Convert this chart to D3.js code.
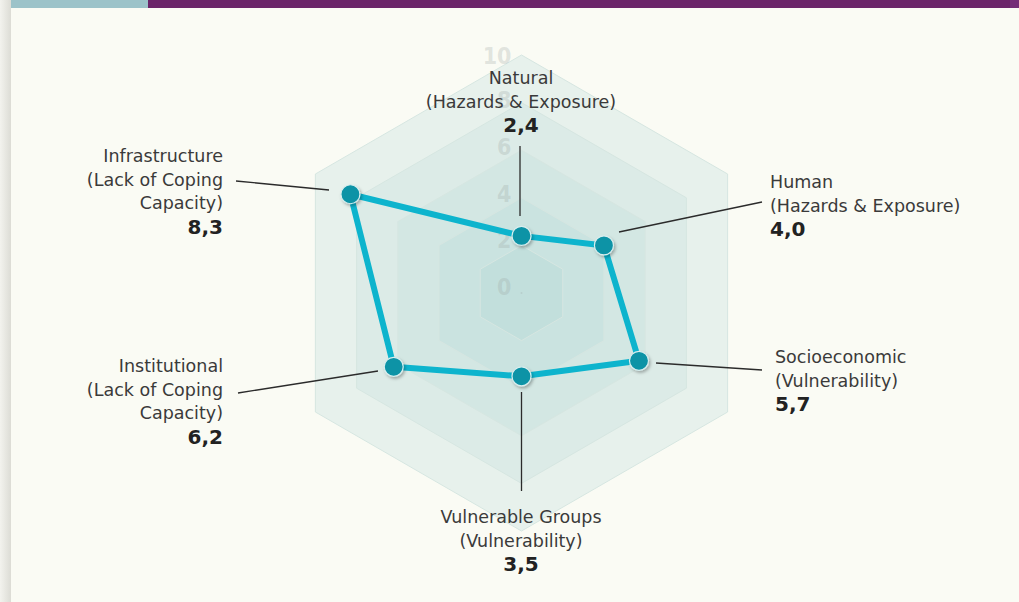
<!DOCTYPE html>
<html>
<head>
<meta charset="utf-8">
<script src="https://cdn.jsdelivr.net/npm/d3@7"></script>
<style>
  html, body { margin: 0; padding: 0; background: #fafbf4; }
  svg { display: block; }
</style>
</head>
<body>
<svg id="chart" width="1019" height="602"></svg>
<script>
// ---- data ----
const categories = ["Natural", "Human", "Socioeconomic", "Vulnerable Groups", "Institutional", "Infrastructure"];
const subtitles = ["(Hazards & Exposure)", "(Hazards & Exposure)", "(Vulnerability)", "(Vulnerability)", "(Lack of Coping|Capacity)", "(Lack of Coping|Capacity)"];
const values = [2.4, 4.0, 5.7, 3.5, 6.2, 8.3];
const valueLabels = ["2,4", "4,0", "5,7", "3,5", "6,2", "8,3"];
const gridLevels = [10, 8, 6, 4, 2];
const tickLabels = [10, 8, 6, 4, 2, 0];

// ---- layout ----
const W = 1019, H = 602;
const cx = 521.5, cy = 293;
const R = 238;
const gridFills = {10: "#e7f1ec", 8: "#dcebe7", 6: "#d3e7e3", 4: "#cae3e0", 2: "#c2dfdc"};
// label layout: anchor, x, first baseline, leader line (x1,y1,x2,y2)
const labelLayout = [
  {anchor: "middle", x: 521, y: 84,  line: [520, 146, 520, 216]},
  {anchor: "start",  x: 770, y: 188, line: [619, 232, 762, 202]},
  {anchor: "start",  x: 775, y: 363, line: [656, 363, 762, 370]},
  {anchor: "middle", x: 521, y: 523, line: [521.5, 392, 521.5, 491]},
  {anchor: "end",    x: 223, y: 372, line: [238, 393, 378, 371]},
  {anchor: "end",    x: 223, y: 162, line: [236, 181, 329, 190]}
];

const svg = d3.select("#chart");
const defs = svg.append("defs");

// left shadow gradient
const lg = defs.append("linearGradient").attr("id", "shadow").attr("x1", "0").attr("x2", "1");
lg.append("stop").attr("offset", "0").attr("stop-color", "#f3f3ee");
lg.append("stop").attr("offset", "1").attr("stop-color", "#dcdcd5");
const f = defs.append("filter").attr("id", "ds").attr("x", "-50%").attr("y", "-50%").attr("width", "200%").attr("height", "200%");
f.append("feDropShadow").attr("dx", 1.5).attr("dy", 2).attr("stdDeviation", 1.8)
  .attr("flood-color", "#000").attr("flood-opacity", 0.28);

svg.append("rect").attr("x", 0).attr("y", 0).attr("width", W).attr("height", H).attr("fill", "#fafbf4");
svg.append("rect").attr("x", 0).attr("y", 0).attr("width", 11).attr("height", H).attr("fill", "url(#shadow)");
// top bar
svg.append("rect").attr("x", 11).attr("y", 0).attr("width", 137).attr("height", 8).attr("fill", "#9cc3c9");
svg.append("rect").attr("x", 148).attr("y", 0).attr("width", 862).attr("height", 8).attr("fill", "#6b2569");
svg.append("rect").attr("x", 1010).attr("y", 0).attr("width", 9).attr("height", 8).attr("fill", "#752d77");

const r = d3.scaleLinear().domain([0, 10]).range([0, R]);
const angle = d3.scalePoint().domain(d3.range(categories.length)).range([0, 2 * Math.PI * (categories.length - 1) / categories.length]);

const g = svg.append("g").attr("transform", `translate(${cx},${cy})`);

const radial = d3.lineRadial().curve(d3.curveLinearClosed);

// grid hexagons
g.selectAll("path.grid").data(gridLevels).join("path")
  .attr("class", "grid")
  .attr("d", lv => radial(categories.map((c, i) => [angle(i), r(lv)])))
  .attr("fill", lv => gridFills[lv])
  .attr("stroke", "#d6e6e1")
  .attr("stroke-width", 1);

// tick labels
g.selectAll("text.tick").data(tickLabels).join("text")
  .attr("class", "tick")
  .attr("x", -10)
  .attr("y", v => 2 - r(v) * 0.98 + (v === 10 ? 2 : 0))
  .attr("text-anchor", "end")
  .attr("font-family", "'Liberation Sans Narrow', 'DejaVu Sans Condensed', sans-serif")
  .attr("font-weight", "bold")
  .attr("font-size", 23)
  .attr("fill", "rgb(150,160,158)")
  .attr("fill-opacity", 0.27)
  .text(d => d);
g.append("circle").attr("cx", 0).attr("cy", 0).attr("r", 1).attr("fill", "#b8cfcc");

// leader lines
svg.selectAll("line.leader").data(labelLayout).join("line")
  .attr("class", "leader")
  .attr("x1", d => d.line[0]).attr("y1", d => d.line[1])
  .attr("x2", d => d.line[2]).attr("y2", d => d.line[3])
  .attr("stroke", "#2b2b2b").attr("stroke-width", 1.3);

// data polygon
const pts = values.map((v, i) => [angle(i), r(v)]);
g.append("path")
  .attr("d", radial(pts))
  .attr("fill", "none")
  .attr("stroke", "#0db4cd")
  .attr("stroke-width", 6)
  .attr("stroke-linejoin", "round");

g.selectAll("circle.pt").data(pts).join("circle")
  .attr("class", "pt")
  .attr("cx", d => d[1] * Math.sin(d[0]))
  .attr("cy", d => -d[1] * Math.cos(d[0]))
  .attr("r", 9.5)
  .attr("fill", "#0993a6")
  .attr("stroke", "#d9eeee")
  .attr("stroke-width", 1.2)
  .attr("filter", "url(#ds)");

// labels
const lineH = 23.5;
categories.forEach((c, i) => {
  const L = labelLayout[i];
  const lines = [c].concat(subtitles[i].split("|"));
  const t = svg.append("text")
    .attr("text-anchor", L.anchor)
    .attr("font-family", "'DejaVu Sans', sans-serif")
    .attr("font-size", 17.5)
    .attr("fill", "#3a3a3a");
  lines.forEach((ln, k) => {
    t.append("tspan").attr("x", L.x).attr("y", L.y + k * lineH).text(ln);
  });
  svg.append("text")
    .attr("text-anchor", L.anchor)
    .attr("x", L.x)
    .attr("y", L.y + lines.length * lineH + 1)
    .attr("font-family", "'DejaVu Sans', sans-serif")
    .attr("font-weight", "bold")
    .attr("font-size", 20)
    .attr("fill", "#222")
    .text(valueLabels[i]);
});
</script>
</body>
</html>
